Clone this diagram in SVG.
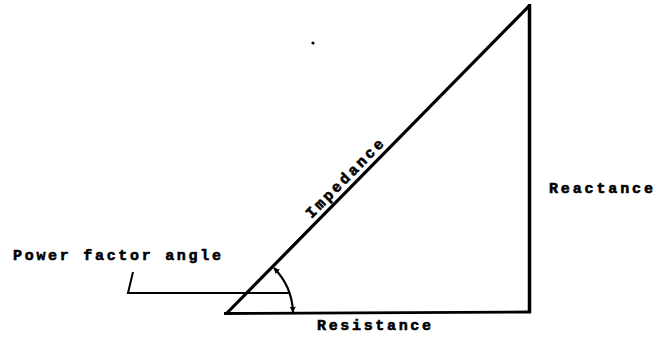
<svg xmlns="http://www.w3.org/2000/svg" width="659" height="339" viewBox="0 0 659 339">
<style>
.lbl{font-family:"Liberation Mono","DejaVu Sans Mono",monospace;font-weight:bold;font-size:15px;fill:#000;stroke:#000;stroke-width:0.6}
.ln{fill:none;stroke:#000;stroke-linecap:butt}
</style>
<defs>
<marker id="ah" viewBox="0 0 10 10" refX="9" refY="5" markerWidth="6" markerHeight="6" orient="auto-start-reverse" markerUnits="userSpaceOnUse">
<path d="M0,0 L10,5 L0,10 Z" fill="#000"/>
</marker>
</defs>
<rect width="659" height="339" fill="#fff"/>
<g id="triangle">
<line class="ln" x1="226" y1="314" x2="530" y2="5" stroke-width="3.2"/>
<line class="ln" x1="529.5" y1="4" x2="529.5" y2="313" stroke-width="3.5"/>
<line class="ln" x1="224" y1="313.5" x2="531" y2="312" stroke-width="2.8"/>
</g>
<g id="angle">
<path class="ln" d="M274,268 A67 67 0 0 1 293,312" stroke-width="2.2" marker-start="url(#ah)" marker-end="url(#ah)"/>
</g>
<g id="leader">
<polyline class="ln" points="133,272 128,293 290,293" stroke-width="2"/>
</g>
<circle cx="313" cy="43" r="1.6" fill="#000"/>
<g id="labels">
<text class="lbl" x="13" y="260" textLength="208" lengthAdjust="spacing">Power factor angle</text>
<text class="lbl" x="549" y="193" textLength="104" lengthAdjust="spacing">Reactance</text>
<text class="lbl" x="317" y="330" textLength="114" lengthAdjust="spacing">Resistance</text>
<text class="lbl" x="0" y="0" text-anchor="middle" textLength="104" lengthAdjust="spacing" transform="translate(348,182) rotate(-45.5)">Impedance</text>
</g>
</svg>
